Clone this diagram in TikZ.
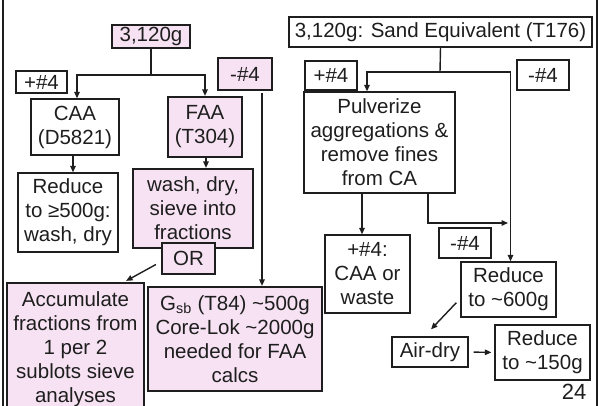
\documentclass[tikz,border=0pt]{standalone}
\usepackage{fontspec}
\setmainfont{Liberation Sans}
\usetikzlibrary{arrows.meta,calc}
\definecolor{pinkfill}{RGB}{246,226,243}
\definecolor{ink}{RGB}{30,30,30}
\begin{document}
\begin{tikzpicture}[x=1pt,y=-1pt,
  every node/.style={font=\fontsize{20.5}{24}\selectfont, align=center, inner sep=0pt, text=ink},
  wbox/.style={draw=ink, line width=1.3pt, fill=white, rectangle},
  pbox/.style={draw=ink, line width=2.2pt, fill=pinkfill, rectangle},
  arr/.style={line width=1.4pt, draw=ink, -{Triangle[length=6.5pt,width=5.5pt]}},
  ln/.style={line width=1.4pt, draw=ink}]
\useasboundingbox (0,0) rectangle (600,406);
% frame
\draw[line width=2.5pt, ink] (3,0) -- (3,406);
\draw[line width=2.5pt, ink] (597,0) -- (597,406);

% left part
\node[pbox, minimum width=78pt, minimum height=23pt] (n3120) at (151,36.5) {3,120g};
\node[wbox, minimum width=51pt, minimum height=22pt] (pl4L) at (41.5,82) {+\#4};
\node[pbox, minimum width=54pt, minimum height=32pt] (mi4L) at (245,74) {-\#4};
\node[wbox, minimum width=88pt, minimum height=56pt] (caa) at (75,127) {CAA\\(D5821)};
\node[pbox, minimum width=74pt, minimum height=60pt] (faa) at (205,127) {FAA\\(T304)};
\node[wbox, minimum width=100pt, minimum height=79pt] (red500) at (68,212.5) {Reduce\\to ≥500g:\\wash, dry};
\node[pbox, minimum width=120pt, minimum height=79pt] (wash) at (193,208.5) {wash, dry,\\sieve into\\fractions};
\node[pbox, minimum width=53pt, minimum height=31pt] (or) at (188.5,258.5) {OR};
\node[pbox, minimum width=137pt, minimum height=132pt] (accum) at (75.5,349) {Accumulate\\fractions from\\1 per 2\\sublots sieve\\analyses};
\node[pbox, minimum width=174pt, minimum height=104pt] (gsb) at (235,339) {G\textsubscript{sb} (T84) \textasciitilde500g\\Core-Lok \textasciitilde2000g\\needed for FAA\\calcs};

\coordinate (j1) at (151,75);
\draw[ln] (n3120.south) -- (j1);
\draw[arr] (j1) -| ([xshift=2pt]caa.north);
\draw[arr] (j1) -| (faa.north);
\draw[arr] ([xshift=-2pt]caa.south) -- ([xshift=-2pt]caa.south |- red500.north);
\draw[arr] ([xshift=1pt]faa.south) -- ([xshift=1pt]faa.south |- wash.north);
\coordinate (m4a) at (262,93);
\draw[arr] (m4a) -- (m4a |- gsb.north);
\draw[arr] ($(or.west)+(-5,6)$) -- ($(accum.north east)+(-19,-1)$);

% right part
\node[wbox, minimum width=303pt, minimum height=30pt] (se) at (440.5,32) {3,120g: Sand Equivalent (T176)};
\node[wbox, minimum width=52pt, minimum height=29pt] (pl4R) at (331,75.5) {+\#4};
\node[wbox, minimum width=52pt, minimum height=30pt] (mi4R) at (543,75) {-\#4};
\node[wbox, minimum width=151pt, minimum height=101pt] (pulv) at (379.5,142.5) {Pulverize\\aggregations \&\\remove fines\\from CA};
\node[wbox, minimum width=85pt, minimum height=78pt] (caaw) at (367.5,274) {+\#4:\\CAA or\\waste};
\node[wbox, minimum width=52pt, minimum height=30pt] (mi4low) at (465,243) {-\#4};
\node[wbox, minimum width=95pt, minimum height=55pt] (red600) at (508.5,289.5) {Reduce\\to \textasciitilde600g};
\node[wbox, minimum width=76pt, minimum height=30pt] (airdry) at (430,352) {Air-dry};
\node[wbox, minimum width=95pt, minimum height=55pt] (red150) at (542.5,352.5) {Reduce\\to \textasciitilde150g};
\node[font=\fontsize{22}{22}\selectfont, anchor=base] (pg) at (574,399) {24};

\coordinate (j2) at (440,72);
\draw[ln] (se.south) -- (j2);
\draw[arr] (j2) -| ([xshift=-12.5pt]pulv.north);
\draw[arr] (j2) -| ([xshift=2pt]red600.north);
\draw[arr] ([xshift=-17.5pt]pulv.south) -- ([xshift=-17.5pt]pulv.south |- caaw.north);
\coordinate (j3) at (508,223);
\draw[arr] ([xshift=48.5pt]pulv.south) |- (j3);
\draw[arr] ($(red600.south west)+(-4,-15)$) -- ($(airdry.north)+(1,-7)$);
\draw[arr, shorten <=5pt, shorten >=3pt] (airdry.east) -- (red150.west);
\end{tikzpicture}
\end{document}
